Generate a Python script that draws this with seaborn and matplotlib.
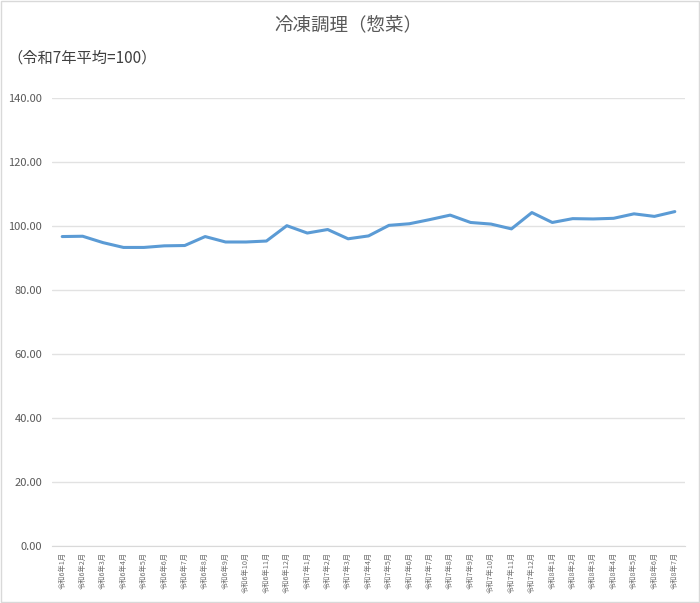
import matplotlib
matplotlib.use("Agg")
import matplotlib.pyplot as plt
import seaborn as sns
from matplotlib.patches import Rectangle

# data
months = ([f"令和6年{m}月" for m in range(1, 13)]
          + [f"令和7年{m}月" for m in range(1, 13)]
          + [f"令和8年{m}月" for m in range(1, 8)])
index_values = [96.7, 96.8, 94.8, 93.3, 93.3, 93.8, 93.9, 96.7, 95.0, 95.0,
                95.3, 100.1, 97.8, 98.9, 96.0, 96.9, 100.2, 100.7, 102.0, 103.4,
                101.1, 100.6, 99.1, 104.2, 101.1, 102.3, 102.2, 102.4, 103.8, 103.0,
                104.5]
y_ticks = [0, 20, 40, 60, 80, 100, 120, 140]

sns.set_style("white")
plt.rcParams['font.family'] = ['Noto Sans CJK JP', 'DejaVu Sans']

fig = plt.figure(figsize=(7, 6.03), dpi=100)
ax = fig.add_axes([0.0743, 0.0945, 0.9043, 0.743])

sns.lineplot(x=list(range(len(months))), y=index_values, sort=False,
             color="#5B9BD5", linewidth=2.2, ax=ax)

ax.set_xlim(-0.5, len(months) - 0.5)
ax.set_ylim(0, 140)
ax.set_yticks(y_ticks)
ax.set_yticklabels([f"{v:.2f}" for v in y_ticks], fontsize=8, color="#595959")
ax.set_xticks(range(len(months)))
ax.set_xticklabels(months, rotation=90, fontsize=5.2, color="#707070", va="top")
ax.tick_params(axis="both", length=0, pad=4)
ax.tick_params(axis="y", pad=7)

ax.grid(axis="y", color="#E2E2E2", linewidth=1)
ax.set_axisbelow(True)
for side in ["top", "right", "left"]:
    ax.spines[side].set_visible(False)
ax.spines["bottom"].set_color("#D9D9D9")
ax.set_xlabel("")
ax.set_ylabel("")

fig.text(0.497, 0.958, "冷凍調理（惣菜）", ha="center", va="center",
         fontsize=13.3, color="#595959")
fig.text(0.011, 0.903, "（令和7年平均=100）", ha="left", va="center",
         fontsize=11, color="#404040")

fig.patches.append(Rectangle((0.001, 0.001), 0.997, 0.997, transform=fig.transFigure,
                             fill=False, edgecolor="#D9D9D9", linewidth=1))

fig.savefig("out.png", dpi=100)
